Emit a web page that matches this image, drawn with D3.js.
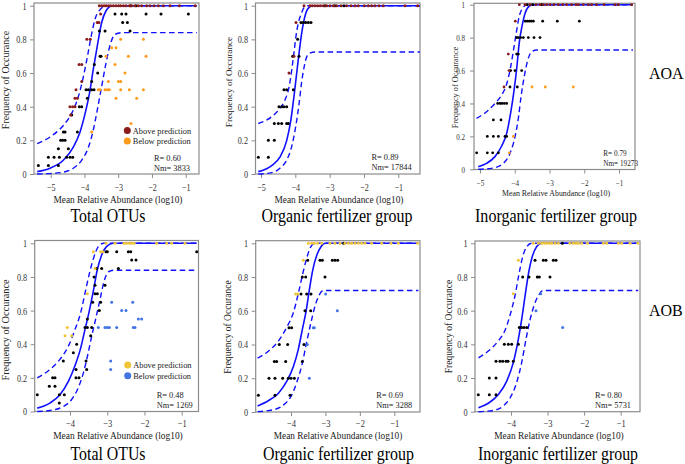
<!DOCTYPE html>
<html><head><meta charset="utf-8">
<script src="https://cdn.jsdelivr.net/npm/d3@7"></script>
<style>body{margin:0;background:#fff}svg{display:block}svg text{font-family:"Liberation Serif","DejaVu Serif","Times New Roman",serif !important}</style>
</head><body>
<svg id="chart" width="685" height="464" font-family="Liberation Serif, DejaVu Serif, serif"></svg>
<script>
// ---------------- DATA ----------------
const yTicks = [0, 0.2, 0.4, 0.6, 0.8, 1];
const yTickLabels = ["0", "0.2", "0.4", "0.6", "0.8", "1"];
const xTicksAOA = [-5, -4, -3, -2, -1];
const xTickLabelsAOA = ["\u22125", "\u22124", "\u22123", "\u22122", "\u22121"];
const xTicksAOB = [-4, -3, -2, -1];
const xTickLabelsAOB = ["\u22124", "\u22123", "\u22122", "\u22121"];
const panelTitles = ["Total OTUs", "Organic fertilizer group", "Inorganic fertilizer  group",
                     "Total OTUs", "Organic fertilizer group", "Inorganic fertilizer group"];
const rowLabels = ["AOA", "AOB"];
const statsR = ["0.60", "0.89", "0.79", "0.48", "0.69", "0.80"];
const statsNm = ["3833", "17844", "19273", "1269", "3288", "5731"];
const legendLabels = ["Above prediction", "Below prediction"];
const xAxisTitle = "Mean Relative Abundance (log10)";
const yAxisTitle = "Frequency of Occurance";

// AOA – Total OTUs
const aoaTotalAbove = [[-3.558,1],[-3.489,1],[-3.420,1],[-3.360,1],[-3.291,1],[-3.222,1],[-3.143,1],[-3.064,1],[-2.985,1],[-2.926,1],[-2.847,1],[-2.768,1],[-2.669,1],[-2.600,1],[-2.501,1],[-2.402,1],[-2.304,1],[-2.156,1],[-2.057,1],[-1.938,1],[-1.810,1],[-1.662,1],[-1.464,1],[-1.188,1],[-0.723,1],
  [-3.52,0.95],[-3.62,0.9],[-3.57,0.9],[-3.93,0.8],[-3.83,0.8],[-4.16,0.65],[-4.08,0.65],[-4.08,0.55],[-4.25,0.5],[-4.28,0.45],[-4.21,0.45],[-4.43,0.4],[-4.35,0.4],[-4.28,0.4],[-4.41,0.35]];
const aoaTotalNeutral = [[-2.63,1],[-2.47,1],[-3.094,0.95],[-2.896,0.95],[-2.768,0.95],[-2.175,0.95],[-1.731,0.95],[-0.921,0.95],[-2.867,0.9],[-2.728,0.9],[-3.558,0.85],[-3.390,0.85],[-2.649,0.85],[-3.538,0.7],[-3.509,0.7],[-3.706,0.65],[-3.607,0.6],[-3.785,0.55],[-3.953,0.5],[-3.884,0.5],[-3.785,0.5],[-3.716,0.5],[-3.914,0.45],[-4.151,0.4],[-4.081,0.4],[-4.378,0.35],[-4.625,0.25],[-4.575,0.25],[-4.210,0.25],[-4.704,0.2],[-4.644,0.2],[-4.575,0.2],[-4.773,0.15],[-4.477,0.15],[-5.069,0.1],[-4.901,0.1],[-4.743,0.1],[-4.526,0.1],[-4.427,0.1],[-4.348,0.1],[-5.365,0.05],[-5.069,0.05],[-4.773,0.05]];
const aoaTotalBelow = [[-2.926,0.8],[-2.254,0.8],[-3.193,0.75],[-3.064,0.75],[-3.360,0.7],[-2.699,0.7],[-2.175,0.7],[-3.094,0.65],[-2.798,0.6],[-3.291,0.55],[-2.995,0.55],[-2.926,0.55],[-3.588,0.5],[-3.538,0.5],[-3.390,0.5],[-3.321,0.5],[-3.262,0.5],[-2.926,0.5],[-2.669,0.5],[-2.254,0.5],[-3.064,0.45],[-2.452,0.45],[-2.620,0.3],[-3.785,0.25]];
const aoaTotalFit = [[-5.40,0.014],[-5.02,0.034],[-4.62,0.083],[-4.33,0.16],[-4.13,0.25],[-3.98,0.36],[-3.85,0.48],[-3.74,0.62],[-3.62,0.76],[-3.49,0.90],[-3.36,0.97],[-3.28,0.99],[-3.19,1.0],[-0.67,1.0]];
const aoaTotalUpper = [[-5.40,0.18],[-5.02,0.22],[-4.62,0.29],[-4.38,0.36],[-4.18,0.46],[-4.03,0.58],[-3.91,0.70],[-3.79,0.83],[-3.67,0.93],[-3.52,0.98],[-3.36,1.0],[-0.67,1.0]];
const aoaTotalLower = [[-5.40,0.0],[-4.72,0.008],[-4.33,0.034],[-4.08,0.083],[-3.88,0.16],[-3.74,0.26],[-3.62,0.38],[-3.49,0.52],[-3.36,0.66],[-3.22,0.78],[-3.09,0.83],[-2.85,0.84],[-0.67,0.84]];

// AOA – Organic fertilizer group
const aoaOrgAbove = [[-3.748,1],[-3.573,1],[-3.505,1],[-3.427,1],[-3.350,1],[-3.272,1],[-3.184,1],[-3.087,1],[-2.990,1],[-2.893,1],[-2.796,1],[-2.670,1],[-2.505,1],[-2.379,1],[-2.262,1],[-2.165,1],[-1.990,1],[-1.874,1],[-1.777,1],[-1.680,1],[-1.563,1],[-1.437,1],[-0.806,1],[-0.437,1],[-3.981,0.9],[-4.039,0.7],[-4.184,0.6]];
const aoaOrgNeutral = [[-3.136,1],[-2.845,1],[-2.583,1],[-3.835,0.9],[-3.767,0.9],[-3.699,0.9],[-3.621,0.9],[-3.544,0.9],[-3.932,0.8],[-4.078,0.7],[-3.893,0.7],[-4.330,0.5],[-4.252,0.5],[-4.058,0.5],[-4.476,0.4],[-4.398,0.4],[-4.330,0.4],[-4.252,0.4],[-4.612,0.3],[-4.495,0.3],[-4.398,0.3],[-4.252,0.3],[-4.204,0.3],[-4.786,0.2],[-4.612,0.2],[-5.078,0.1],[-4.786,0.1]];
const aoaOrgBelow = [];
const aoaOrgFit = [[-5.08,0.014],[-4.69,0.05],[-4.45,0.10],[-4.25,0.20],[-4.13,0.32],[-4.04,0.46],[-3.96,0.60],[-3.89,0.72],[-3.82,0.83],[-3.74,0.92],[-3.64,0.98],[-3.50,1.0],[-0.37,1.0]];
const aoaOrgUpper = [[-5.08,0.30],[-4.69,0.34],[-4.45,0.39],[-4.30,0.44],[-4.18,0.52],[-4.11,0.61],[-4.04,0.72],[-3.98,0.82],[-3.91,0.90],[-3.83,0.95],[-3.74,0.99],[-3.62,1.0],[-0.37,1.0]];
const aoaOrgLower = [[-5.08,0.0],[-4.69,0.008],[-4.45,0.034],[-4.25,0.083],[-4.11,0.16],[-3.99,0.28],[-3.89,0.42],[-3.82,0.54],[-3.74,0.64],[-3.66,0.70],[-3.56,0.72],[-3.43,0.725],[-0.37,0.725]];

// AOA – Inorganic fertilizer group
const aoaInorgAbove = [[-3.868,1],[-3.705,1],[-3.561,1],[-3.388,1],[-3.273,1],[-3.177,1],[-3.082,1],[-2.986,1],[-2.870,1],[-2.746,1],[-2.621,1],[-2.506,1],[-2.362,1],[-2.237,1],[-2.170,1],[-2.026,1],[-1.882,1],[-1.787,1],[-1.643,1],[-1.432,1],[-1.115,1],[-1.019,1],[-0.635,1],[-3.983,0.9],[-4.185,0.7],[-4.165,0.6],[-4.309,0.5]];
const aoaInorgNeutral = [[-3.638,1],[-3.484,1],[-3.225,1],[-3.695,0.9],[-3.638,0.9],[-3.580,0.9],[-3.523,0.9],[-3.465,0.9],[-3.197,0.9],[-2.775,0.9],[-2.141,0.9],[-3.945,0.8],[-3.897,0.8],[-3.830,0.8],[-3.753,0.8],[-3.609,0.8],[-3.446,0.8],[-3.273,0.8],[-3.945,0.7],[-3.897,0.7],[-4.118,0.6],[-3.993,0.6],[-3.801,0.6],[-4.137,0.5],[-3.926,0.5],[-4.492,0.4],[-4.424,0.4],[-4.367,0.4],[-4.300,0.4],[-4.233,0.4],[-4.616,0.3],[-4.396,0.3],[-4.789,0.2],[-4.616,0.2],[-4.472,0.2],[-4.281,0.2],[-4.233,0.2],[-5.096,0.1],[-4.789,0.1],[-4.635,0.1],[-4.472,0.1]];
const aoaInorgBelow = [[-3.504,0.5],[-3.120,0.5],[-2.314,0.5],[-4.041,0.2],[-4.156,0.1]];
const aoaInorgFit = [[-5.05,0.016],[-4.81,0.036],[-4.57,0.077],[-4.38,0.14],[-4.23,0.22],[-4.12,0.34],[-4.02,0.48],[-3.94,0.62],[-3.87,0.77],[-3.79,0.87],[-3.70,0.95],[-3.59,0.99],[-3.46,1.0],[-0.60,1.0]];
const aoaInorgUpper = [[-5.10,0.31],[-4.81,0.35],[-4.57,0.40],[-4.38,0.45],[-4.23,0.52],[-4.12,0.62],[-4.02,0.745],[-3.94,0.85],[-3.87,0.93],[-3.77,0.98],[-3.65,1.0],[-0.60,1.0]];
const aoaInorgLower = [[-5.05,0.0],[-4.62,0.008],[-4.33,0.036],[-4.13,0.10],[-3.99,0.20],[-3.89,0.32],[-3.82,0.44],[-3.73,0.56],[-3.63,0.66],[-3.51,0.715],[-3.37,0.725],[-0.60,0.725]];

// AOB – Total OTUs
const aobTotalAbove = [[-3.033,1],[-2.791,1],[-2.549,1],[-2.478,1],[-2.406,1],[-2.343,1],[-2.281,1],[-1.672,1],[-1.403,1],[-1.269,1],[-0.911,1],[-3.373,0.95],[-3.176,0.95],[-3.122,0.95],[-3.328,0.85],[-3.534,0.7],[-4.072,0.5],[-4.134,0.45],[-3.955,0.45]];
const aobTotalNeutral = [[-3.033,0.95],[-2.997,0.95],[-2.746,0.95],[-2.433,0.95],[-2.370,0.95],[-0.597,0.95],[-2.343,0.9],[-2.227,0.9],[-3.284,0.85],[-3.149,0.85],[-2.701,0.85],[-3.355,0.8],[-3.328,0.75],[-3.060,0.75],[-3.328,0.7],[-3.266,0.7],[-3.391,0.65],[-3.176,0.65],[-3.212,0.6],[-3.534,0.55],[-3.597,0.5],[-3.534,0.5],[-3.418,0.5],[-3.445,0.45],[-3.821,0.4],[-3.910,0.35],[-4.179,0.3],[-3.570,0.3],[-3.839,0.25],[-3.552,0.25],[-4.466,0.2],[-4.403,0.2],[-3.839,0.2],[-3.758,0.2],[-4.555,0.15],[-4.403,0.15],[-4.878,0.1],[-4.287,0.1],[-4.152,0.1],[-4.287,0.05]];
const aobTotalBelow = [[-2.881,0.65],[-2.316,0.65],[-2.612,0.6],[-2.496,0.6],[-2.164,0.55],[-2.075,0.55],[-3.239,0.5],[-3.060,0.5],[-2.997,0.5],[-2.943,0.5],[-2.746,0.5],[-2.299,0.5],[-2.254,0.5],[-2.907,0.3],[-2.907,0.25]];
const aobTotalFit = [[-4.88,0.02],[-4.54,0.05],[-4.27,0.10],[-4.04,0.18],[-3.87,0.27],[-3.71,0.38],[-3.60,0.485],[-3.48,0.60],[-3.37,0.72],[-3.27,0.84],[-3.15,0.93],[-3.02,0.98],[-2.84,1.0],[-0.60,1.0]];
const aobTotalUpper = [[-4.88,0.20],[-4.54,0.25],[-4.27,0.31],[-4.04,0.39],[-3.87,0.485],[-3.71,0.59],[-3.60,0.70],[-3.48,0.82],[-3.37,0.91],[-3.24,0.98],[-3.10,1.0],[-0.60,1.0]];
const aobTotalLower = [[-4.88,0.0],[-4.54,0.006],[-4.18,0.03],[-3.96,0.07],[-3.78,0.14],[-3.64,0.23],[-3.53,0.33],[-3.42,0.445],[-3.30,0.56],[-3.19,0.67],[-3.09,0.77],[-2.97,0.83],[-2.84,0.84],[-0.60,0.84]];

// AOB – Organic fertilizer group
const aobOrgAbove = [[-3.497,1],[-3.400,1],[-3.323,1],[-3.226,1],[-3.110,1],[-2.868,1],[-2.723,1],[-2.577,1],[-2.432,1],[-2.335,1],[-2.239,1],[-2.142,1],[-2.045,1],[-1.948,1],[-1.852,1],[-1.658,1],[-1.368,1],[-1.097,1],[-0.884,1],[-0.323,1],[-3.642,0.9],[-3.865,0.7],[-3.806,0.7]];
const aobOrgNeutral = [[-2.471,1],[-3.516,0.9],[-3.158,0.9],[-3.090,0.9],[-2.800,0.9],[-2.723,0.9],[-2.645,0.9],[-3.671,0.8],[-3.574,0.8],[-3.013,0.8],[-3.710,0.7],[-3.545,0.7],[-3.419,0.7],[-3.594,0.6],[-3.429,0.6],[-4.058,0.5],[-3.981,0.5],[-4.339,0.4],[-4.097,0.4],[-3.623,0.4],[-4.484,0.3],[-4.416,0.3],[-4.155,0.3],[-3.671,0.3],[-4.639,0.2],[-4.465,0.2],[-4.242,0.2],[-4.077,0.2],[-4.000,0.2],[-3.903,0.2],[-4.948,0.1],[-4.465,0.1],[-4.029,0.1]];
const aobOrgBelow = [[-2.994,0.7],[-2.655,0.6],[-3.352,0.5],[-3.323,0.5],[-3.526,0.4],[-3.468,0.2]];
const aobOrgFit = [[-4.97,0.036],[-4.66,0.067],[-4.37,0.11],[-4.13,0.18],[-3.93,0.27],[-3.79,0.37],[-3.67,0.49],[-3.56,0.60],[-3.47,0.72],[-3.37,0.84],[-3.25,0.93],[-3.13,0.98],[-3.01,1.0],[-0.30,1.0]];
const aobOrgUpper = [[-4.97,0.32],[-4.66,0.36],[-4.37,0.42],[-4.13,0.50],[-3.93,0.59],[-3.79,0.70],[-3.67,0.81],[-3.56,0.90],[-3.45,0.97],[-3.32,1.0],[-0.30,1.0]];
const aobOrgLower = [[-4.97,0.002],[-4.46,0.016],[-4.17,0.05],[-3.98,0.10],[-3.81,0.19],[-3.67,0.29],[-3.55,0.41],[-3.42,0.53],[-3.30,0.63],[-3.19,0.69],[-3.06,0.72],[-2.92,0.72],[-0.30,0.72]];

// AOB – Inorganic fertilizer group
const aobInorgAbove = [[-3.389,1],[-3.252,1],[-3.161,1],[-3.088,1],[-3.024,1],[-2.951,1],[-2.888,1],[-2.796,1],[-2.705,1],[-2.386,1],[-2.295,1],[-2.222,1],[-2.158,1],[-2.067,1],[-1.912,1],[-1.474,1],[-1.383,1],[-1.064,1],[-0.973,1],[-0.745,1],[-0.535,1],[-3.799,0.9],[-3.936,0.7]];
const aobInorgNeutral = [[-2.596,1],[-3.343,0.9],[-3.116,0.9],[-3.043,0.9],[-2.842,0.9],[-2.769,0.9],[-3.681,0.8],[-3.508,0.8],[-3.280,0.8],[-3.225,0.8],[-2.933,0.8],[-3.772,0.5],[-3.708,0.5],[-3.644,0.5],[-3.571,0.5],[-4.182,0.4],[-4.073,0.4],[-3.982,0.4],[-3.799,0.4],[-4.410,0.3],[-4.301,0.3],[-4.228,0.3],[-4.137,0.3],[-4.082,0.3],[-3.936,0.3],[-4.593,0.2],[-4.410,0.2],[-4.894,0.1],[-4.593,0.1],[-4.410,0.1]];
const aobInorgBelow = [[-3.188,0.7],[-3.316,0.6],[-2.587,0.5]];
const aobInorgFit = [[-4.89,0.024],[-4.62,0.05],[-4.35,0.10],[-4.12,0.18],[-3.94,0.29],[-3.80,0.43],[-3.71,0.545],[-3.62,0.68],[-3.53,0.81],[-3.42,0.92],[-3.30,0.98],[-3.16,1.0],[-0.52,1.0]];
const aobInorgUpper = [[-4.89,0.32],[-4.62,0.36],[-4.35,0.42],[-4.16,0.485],[-4.03,0.57],[-3.89,0.69],[-3.78,0.82],[-3.68,0.92],[-3.57,0.98],[-3.43,1.0],[-0.52,1.0]];
const aobInorgLower = [[-4.89,0.0],[-4.48,0.008],[-4.21,0.034],[-4.03,0.08],[-3.85,0.17],[-3.71,0.29],[-3.59,0.43],[-3.48,0.545],[-3.37,0.63],[-3.25,0.69],[-3.12,0.72],[-2.98,0.72],[-0.52,0.72]];

// ---------------- STYLE / LAYOUT ----------------
const FONT = "Liberation Serif, DejaVu Serif, Times New Roman, serif";
const COL = { aoaAbove: "#8b1c1c", aoaBelow: "#ff9a1a", aobAbove: "#f0c437", aobBelow: "#4274e4",
              neutral: "#000", line: "#1010ff", frame: "#8c8c8c", tick: "#333" };

const layout = [
  {f:[34,3,199,174], xa:[-5,50.7,-1,185.7], ya:[174,5.7], tf:10.5, xtf:9.5, ylab:[5.5,80,10], xlabX:118, xlabY:199.8, xlabLen:129, xlabFs:9.5, xtY:188, titleX:108, titleY:222, titleLen:75, st:[154,160.5,170.5], sf:8.8},
  {f:[255.5,3,420,174], xa:[-5,261,-1,398.3], ya:[174,5.7], tf:10.5, xtf:9.5, ylab:[229,82,9.2], xlabX:339, xlabY:200, xlabLen:129, xlabFs:9.5, xtY:188.3, titleX:337, titleY:222, titleLen:151, st:[371.5,159.5,169.5], sf:8.8},
  {f:[474,3.3,635,169.5], xa:[-5,480,-1,619], ya:[169.3,4.7], tf:9, xtf:8.5, ylab:[455,87.5,8.3], xlabX:556, xlabY:193.8, xlabLen:108, xlabFs:8, xtY:183, titleX:556, titleY:222, titleLen:162, st:[603.3,156.3,165.7], sf:7.6},
  {f:[34.7,240.5,198.5,411.5], xa:[-4,70,-1,181.7], ya:[411.5,243.3], tf:10.5, xtf:10, ylab:[5.5,330,10.3], xlabX:118, xlabY:435.5, xlabLen:129.5, xlabFs:10, xtY:423.3, titleX:108, titleY:460, titleLen:75, st:[156.7,397.5,408], sf:8.8},
  {f:[255.7,240.7,420,412], xa:[-4,291,-1,394.3], ya:[412,243.3], tf:10.5, xtf:10, ylab:[228,327,9.5], xlabX:338, xlabY:436, xlabLen:128.5, xlabFs:10, xtY:423.8, titleX:338.5, titleY:460, titleLen:151, st:[376.2,397.5,408], sf:8.8},
  {f:[475,241,640,411.7], xa:[-4,511,-1,620.7], ya:[411.7,243.3], tf:10.5, xtf:10, ylab:[448.5,326.5,9.5], xlabX:559, xlabY:436, xlabLen:129.5, xlabFs:10, xtY:423.8, titleX:558, titleY:460, titleLen:160, st:[595,397.5,408], sf:8.8}
];

const panels = [
  {above:aoaTotalAbove, below:aoaTotalBelow, neutral:aoaTotalNeutral, fit:aoaTotalFit, upper:aoaTotalUpper, lower:aoaTotalLower, xt:xTicksAOA, xl:xTickLabelsAOA, ca:COL.aoaAbove, cb:COL.aoaBelow, legend:[127.3,130.5,141]},
  {above:aoaOrgAbove, below:aoaOrgBelow, neutral:aoaOrgNeutral, fit:aoaOrgFit, upper:aoaOrgUpper, lower:aoaOrgLower, xt:xTicksAOA, xl:xTickLabelsAOA, ca:COL.aoaAbove, cb:COL.aoaBelow},
  {above:aoaInorgAbove, below:aoaInorgBelow, neutral:aoaInorgNeutral, fit:aoaInorgFit, upper:aoaInorgUpper, lower:aoaInorgLower, xt:xTicksAOA, xl:xTickLabelsAOA, ca:COL.aoaAbove, cb:COL.aoaBelow},
  {above:aobTotalAbove, below:aobTotalBelow, neutral:aobTotalNeutral, fit:aobTotalFit, upper:aobTotalUpper, lower:aobTotalLower, xt:xTicksAOB, xl:xTickLabelsAOB, ca:COL.aobAbove, cb:COL.aobBelow, legend:[127.7,365,375.7]},
  {above:aobOrgAbove, below:aobOrgBelow, neutral:aobOrgNeutral, fit:aobOrgFit, upper:aobOrgUpper, lower:aobOrgLower, xt:xTicksAOB, xl:xTickLabelsAOB, ca:COL.aobAbove, cb:COL.aobBelow},
  {above:aobInorgAbove, below:aobInorgBelow, neutral:aobInorgNeutral, fit:aobInorgFit, upper:aobInorgUpper, lower:aobInorgLower, xt:xTicksAOB, xl:xTickLabelsAOB, ca:COL.aobAbove, cb:COL.aobBelow}
];

// ---------------- DRAW ----------------
const svg = d3.select("#chart");
const SX = 0.78; // horizontal squeeze of the original typesetting

function txt(g, x, y, s, o) {
  const t = g.append("text")
    .attr("transform", `translate(${x},${y})` + (o.rot ? ` rotate(${o.rot})` : "") + (o.sx ? ` scale(${o.sx},1)` : ""))
    .attr("font-family", FONT)
    .attr("font-size", o.fs).attr("fill", o.fill || "#000")
    .attr("text-anchor", o.anchor || "start").text(s);
  if (o.len) t.attr("textLength", o.len).attr("lengthAdjust", "spacingAndGlyphs");
  return t;
}

panels.forEach((p, i) => {
  const L = layout[i];
  const g = svg.append("g").attr("font-family", FONT);
  const x = d3.scaleLinear().domain([L.xa[0], L.xa[2]]).range([L.xa[1], L.xa[3]]);
  const y = d3.scaleLinear().domain([0, 1]).range(L.ya);
  const [fl, ft, fr, fb] = L.f;

  // axes
  const ax = g.append("g").attr("transform", `translate(0,${fb})`)
    .call(d3.axisBottom(x).tickValues(p.xt).tickFormat((d, k) => p.xl[k]).tickSize(4));
  ax.attr("font-family", FONT);
  ax.select(".domain").remove();
  ax.selectAll("line").attr("stroke", COL.frame);
  ax.selectAll("text").attr("y", null).attr("dy", null)
    .attr("font-size", L.xtf).attr("fill", COL.tick).attr("font-family", FONT)
    .attr("transform", `translate(0,${L.xtY - fb + L.xtf * 0.33}) scale(0.85,1)`);

  const ay = g.append("g").attr("transform", `translate(${fl},0)`)
    .call(d3.axisLeft(y).tickValues(yTicks).tickFormat((d, k) => yTickLabels[k]).tickSize(4));
  ay.attr("font-family", FONT);
  ay.select(".domain").remove();
  ay.selectAll("line").attr("stroke", COL.frame);
  ay.selectAll("text").attr("x", null).attr("dy", null)
    .attr("font-size", L.tf).attr("fill", COL.tick).attr("font-family", FONT)
    .attr("transform", `translate(${i === 2 ? -9 : -7.5},${L.tf * 0.33}) scale(${SX},1)`);

  // frame
  g.append("rect").attr("x", fl).attr("y", ft).attr("width", fr - fl).attr("height", fb - ft)
    .attr("fill", "none").attr("stroke", COL.frame).attr("stroke-width", 1.2);

  // curves
  const line = d3.line().x(d => x(d[0])).y(d => y(d[1])).curve(d3.curveMonotoneX);
  g.append("path").attr("d", line(p.upper)).attr("fill", "none").attr("stroke", COL.line)
    .attr("stroke-width", 1.4).attr("stroke-dasharray", "5.5,3.5");
  g.append("path").attr("d", line(p.lower)).attr("fill", "none").attr("stroke", COL.line)
    .attr("stroke-width", 1.4).attr("stroke-dasharray", "5.5,3.5");
  g.append("path").attr("d", line(p.fit)).attr("fill", "none").attr("stroke", COL.line)
    .attr("stroke-width", 1.6);

  // points
  const groups = [[p.neutral, COL.neutral], [p.below, p.cb], [p.above, p.ca]];
  groups.forEach(([arr, c]) => {
    g.append("g").selectAll("circle").data(arr).join("circle")
      .attr("cx", d => x(d[0])).attr("cy", d => y(d[1])).attr("r", i === 2 ? 1.4 : 1.5).attr("fill", c);
  });

  // stats
  txt(g, L.st[0], L.st[1], "R= " + statsR[i], {fs: L.sf, sx: 0.95, fill: "#222"});
  txt(g, L.st[0], L.st[2], "Nm= " + statsNm[i], {fs: L.sf, sx: 0.95, fill: "#222"});

  // legend
  if (p.legend) {
    const [lx, ly1, ly2] = p.legend;
    g.append("circle").attr("cx", lx).attr("cy", ly1).attr("r", 3.5).attr("fill", p.ca);
    g.append("circle").attr("cx", lx).attr("cy", ly2).attr("r", 3.5).attr("fill", p.cb);
    txt(g, lx + 5.5, ly1 + 3, legendLabels[0], {fs: 9, sx: 0.93, fill: "#222"});
    txt(g, lx + 5.5, ly2 + 3, legendLabels[1], {fs: 9, sx: 0.93, fill: "#222"});
  }

  // axis titles
  txt(g, L.xlabX, L.xlabY + L.xlabFs * 0.33, xAxisTitle, {fs: L.xlabFs, anchor: "middle", len: L.xlabLen, fill: "#222"});
  txt(g, L.ylab[0] + L.ylab[2] * 0.33, L.ylab[1], yAxisTitle, {fs: L.ylab[2], anchor: "middle", rot: -90, fill: "#222"});

  // panel title
  txt(g, L.titleX, L.titleY, panelTitles[i], {fs: 19, anchor: "middle", len: L.titleLen});
});

// row labels
txt(svg, 649, 79, rowLabels[0], {fs: 16});
txt(svg, 649, 316, rowLabels[1], {fs: 16});
</script>
</body></html>
